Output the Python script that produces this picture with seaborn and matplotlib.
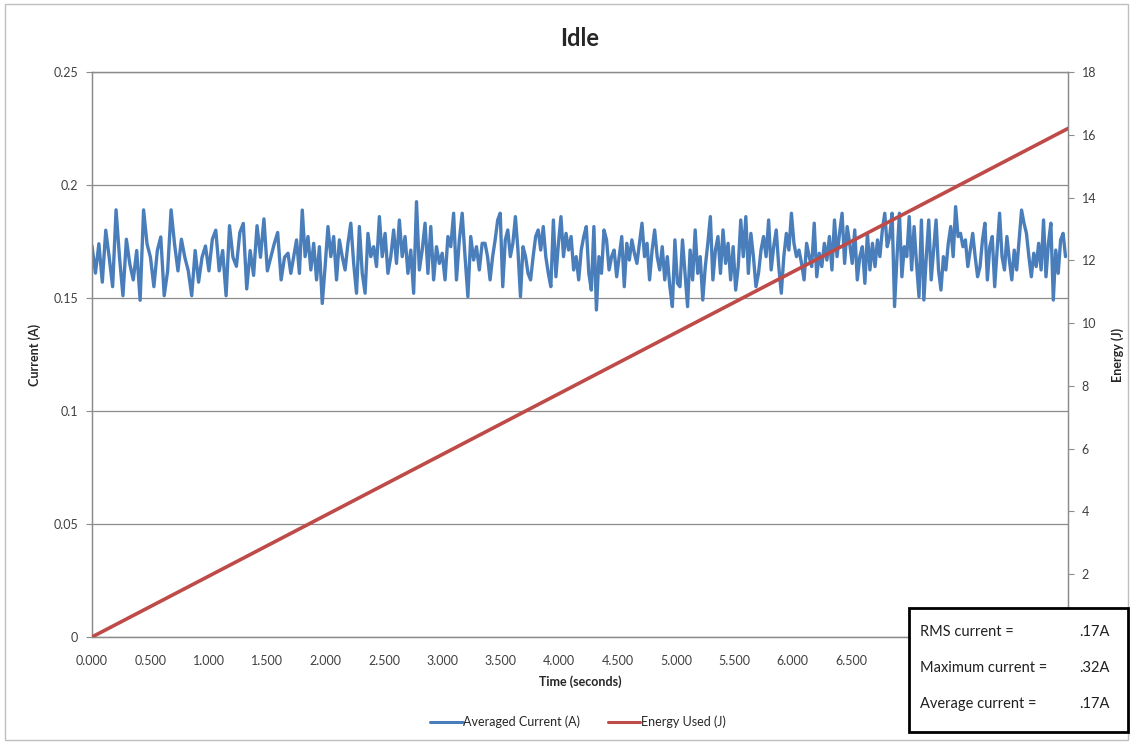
import numpy as np
import pandas as pd
import matplotlib
matplotlib.use("Agg")
import matplotlib.pyplot as plt
import seaborn as sns
from matplotlib.patches import Rectangle
from matplotlib.lines import Line2D

# averaged current (A) in five consecutive time windows
seg_bounds = [0.0, 1.678, 3.365, 5.034, 6.704, 8.356]
current_seg1 = [0.173, 0.161, 0.174, 0.157, 0.180, 0.168, 0.155, 0.189, 0.168, 0.151, 0.176, 0.165,
                0.158, 0.171, 0.149, 0.189, 0.174, 0.168, 0.155, 0.171, 0.177, 0.151, 0.162, 0.189,
                0.174, 0.162, 0.176, 0.168, 0.162, 0.151, 0.171, 0.157, 0.168, 0.173, 0.162, 0.176,
                0.180, 0.162, 0.171, 0.151, 0.182, 0.168, 0.164, 0.179, 0.183, 0.154, 0.171, 0.160,
                0.182, 0.168, 0.185, 0.162, 0.168, 0.174, 0.179, 0.158, 0.168]
current_seg2 = [0.1698, 0.1609, 0.1683, 0.1757, 0.1609, 0.1889, 0.1683, 0.1772, 0.1624, 0.1742, 0.1580,
                0.1727, 0.1476, 0.1639, 0.1816, 0.1683, 0.1772, 0.1580, 0.1757, 0.1683, 0.1624, 0.1742,
                0.1831, 0.1653, 0.1521, 0.1816, 0.1609, 0.1521, 0.1786, 0.1683, 0.1727, 0.1639, 0.1860,
                0.1683, 0.1786, 0.1609, 0.1683, 0.1801, 0.1653, 0.1845, 0.1683, 0.1772, 0.1609, 0.1712,
                0.1521, 0.1926, 0.1624, 0.1712, 0.1831, 0.1609, 0.1816, 0.1580, 0.1727, 0.1653, 0.1698,
                0.1580, 0.1772, 0.1727, 0.1875, 0.1580, 0.1757, 0.1875, 0.1683, 0.1506, 0.1772, 0.1668,
                0.1727, 0.1624, 0.1742]
current_seg3 = [0.1742, 0.1683, 0.1580, 0.1683, 0.1757, 0.1845, 0.1875, 0.1550, 0.1757, 0.1801, 0.1683,
                0.1742, 0.1860, 0.1712, 0.1506, 0.1727, 0.1683, 0.1609, 0.1580, 0.1683, 0.1772, 0.1801,
                0.1712, 0.1816, 0.1683, 0.1609, 0.1550, 0.1845, 0.1594, 0.1742, 0.1860, 0.1683, 0.1786,
                0.1712, 0.1772, 0.1624, 0.1683, 0.1580, 0.1712, 0.1772, 0.1816, 0.1609, 0.1535, 0.1816,
                0.1447, 0.1683, 0.1609, 0.1801, 0.1757, 0.1624, 0.1683, 0.1712, 0.1594, 0.1683, 0.1772,
                0.1550, 0.1742, 0.1668, 0.1757, 0.1698, 0.1653, 0.1742, 0.1831, 0.1683, 0.1742, 0.1580,
                0.1712, 0.1801, 0.1683, 0.1624, 0.1727, 0.1580, 0.1683, 0.1550, 0.1462, 0.1757, 0.1565]
current_seg4 = [0.1550, 0.1757, 0.1609, 0.1462, 0.1712, 0.1580, 0.1801, 0.1609, 0.1683, 0.1491, 0.1639,
                0.1742, 0.1860, 0.1580, 0.1712, 0.1772, 0.1609, 0.1801, 0.1653, 0.1742, 0.1580, 0.1727,
                0.1535, 0.1639, 0.1845, 0.1683, 0.1860, 0.1609, 0.1786, 0.1683, 0.1550, 0.1609, 0.1712,
                0.1772, 0.1683, 0.1845, 0.1624, 0.1727, 0.1801, 0.1639, 0.1521, 0.1683, 0.1786, 0.1712,
                0.1875, 0.1742, 0.1683, 0.1712, 0.1653, 0.1580, 0.1742, 0.1683, 0.1639, 0.1831, 0.1594,
                0.1698, 0.1639, 0.1742, 0.1668, 0.1772, 0.1624, 0.1845, 0.1683, 0.1786, 0.1875, 0.1653,
                0.1816, 0.1742, 0.1653, 0.1801, 0.1580, 0.1683, 0.1727, 0.1565, 0.1786, 0.1624, 0.1742]
current_seg5 = [0.1639, 0.1757, 0.1683, 0.1801, 0.1875, 0.1727, 0.1772, 0.1875, 0.1462, 0.1683, 0.1875,
                0.1594, 0.1727, 0.1683, 0.1860, 0.1624, 0.1816, 0.1653, 0.1506, 0.1845, 0.1491, 0.1683,
                0.1845, 0.1580, 0.1712, 0.1845, 0.1624, 0.1535, 0.1683, 0.1624, 0.1742, 0.1816, 0.1683,
                0.1904, 0.1772, 0.1786, 0.1727, 0.1757, 0.1639, 0.1712, 0.1786, 0.1683, 0.1594, 0.1639,
                0.1757, 0.1831, 0.1580, 0.1727, 0.1772, 0.1550, 0.1712, 0.1875, 0.1683, 0.1624, 0.1772,
                0.1668, 0.1580, 0.1712, 0.1624, 0.1757, 0.1889, 0.1831, 0.1786, 0.1683, 0.1594, 0.1698,
                0.1639, 0.1742, 0.1624, 0.1845, 0.1594, 0.1742, 0.1831, 0.1491, 0.1712, 0.1609, 0.1757,
                0.1786, 0.1683]

energy_time = [0.0, 8.356]
energy_used = [0.0, 16.2]

x_ticks = [0.0, 0.5, 1.0, 1.5, 2.0, 2.5, 3.0, 3.5, 4.0, 4.5, 5.0, 5.5, 6.0, 6.5]
stats_labels = ["RMS current =", "Maximum current =", "Average current ="]
stats_values = [".17A", ".32A", ".17A"]

BLUE = "#4A7EBB"
RED = "#BE4B48"
GRID = "#8C8C8C"

segments = [current_seg1, current_seg2, current_seg3, current_seg4, current_seg5]
times, currents = [], []
for i, seg in enumerate(segments):
    times.extend(np.linspace(seg_bounds[i], seg_bounds[i + 1], len(seg), endpoint=False))
    currents.extend(seg)
df_current = pd.DataFrame({"time": times, "current": currents})
df_energy = pd.DataFrame({"time": energy_time, "energy": energy_used})

sns.set_style("white")
plt.rcParams["font.family"] = ["Lato", "DejaVu Sans"]

fig = plt.figure(figsize=(11.33, 7.43), dpi=100)
ax = fig.add_axes([0.0812, 0.1427, 0.8614, 0.7604])
ax2 = ax.twinx()

sns.lineplot(data=df_current, x="time", y="current", ax=ax, color=BLUE, linewidth=2.4,
             estimator=None, legend=False, zorder=3)
sns.lineplot(data=df_energy, x="time", y="energy", ax=ax2, color=RED, linewidth=2.6,
             estimator=None, legend=False, zorder=4)

ax.set_xlim(0, 8.356)
ax.set_ylim(0, 0.25)
ax2.set_ylim(0, 18)
ax.set_yticks([0, 0.05, 0.1, 0.15, 0.2, 0.25])
ax.set_yticklabels(["0", "0.05", "0.1", "0.15", "0.2", "0.25"])
ax2.set_yticks(range(0, 19, 2))
ax2.set_yticklabels([""] + [str(v) for v in range(2, 19, 2)])
ax.set_xticks(x_ticks)
ax.set_xticklabels([f"{v:.3f}" for v in x_ticks])

ax.yaxis.grid(True, color=GRID, linewidth=0.9)
ax.set_axisbelow(True)
for a in (ax, ax2):
    for s in a.spines.values():
        s.set_color(GRID)
        s.set_linewidth(0.9)
    a.tick_params(axis="both", labelsize=9, colors="#404040", length=4, width=0.8,
                  direction="out", color=GRID)
ax.tick_params(axis="y", pad=6)
ax2.tick_params(axis="y", pad=6)
ax.tick_params(axis="x", pad=9)

ax.set_xlabel("Time (seconds)", fontsize=9, fontweight="bold", labelpad=6)
ax.set_ylabel("Current (A)", fontsize=9, fontweight="bold")
ax2.set_ylabel("Energy (J)", fontsize=9, fontweight="bold")
ax.yaxis.set_label_coords(-0.052, 0.5)
ax2.yaxis.set_label_coords(1.044, 0.5)
ax.set_title("Idle", fontsize=17, fontweight="bold", pad=19)

handles = [Line2D([], [], color=BLUE, linewidth=2.2), Line2D([], [], color=RED, linewidth=2.2)]
fig.legend(handles, ["Averaged Current (A)", "Energy Used (J)"], loc="center",
           bbox_to_anchor=(0.51, 0.028), ncol=2, frameon=False, fontsize=9,
           handlelength=2.6, handletextpad=0.05, columnspacing=2.2)

# outer chart border
fig.patches.append(Rectangle((0.004, 0.004), 0.992, 0.991, transform=fig.transFigure,
                             fill=False, edgecolor="#BFBFBF", linewidth=1.0, zorder=1))

# statistics box on top of the plot corner
fig.patches.append(Rectangle((0.8023, 0.0148), 0.1933, 0.167, transform=fig.transFigure,
                             facecolor="white", edgecolor="black", linewidth=2.0, zorder=10))
for i, (lab, val) in enumerate(zip(stats_labels, stats_values)):
    y = 0.149 - i * 0.048
    fig.text(0.812, y, lab, fontsize=10.5, color="#202020", va="center", zorder=11)
    fig.text(0.979, y, val, fontsize=10.5, color="#202020", va="center", ha="right", zorder=11)

fig.savefig("out.png", dpi=100)
